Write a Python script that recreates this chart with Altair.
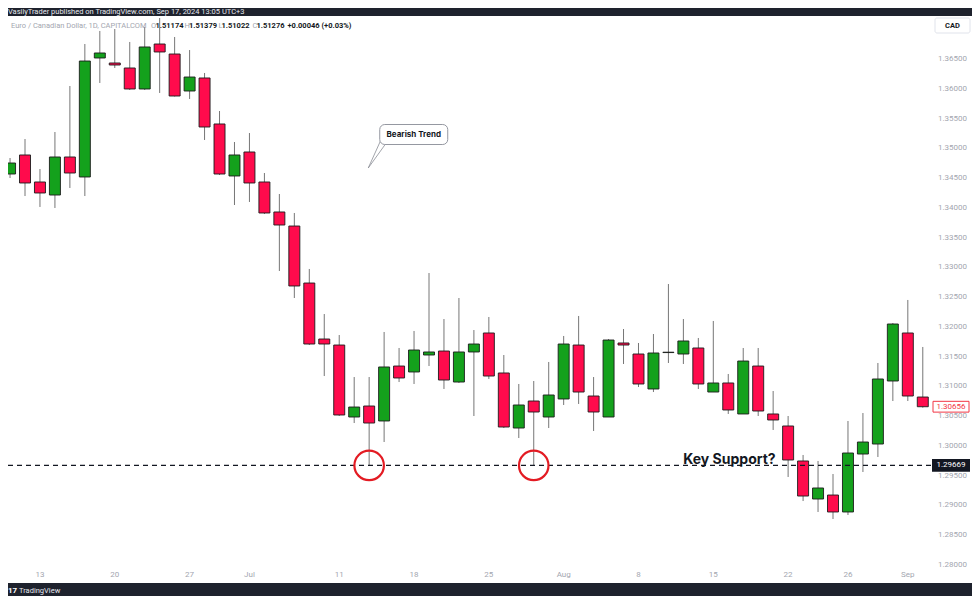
import altair as alt
import pandas as pd

# ---------------- data ----------------
open_ = [1.34567, 1.34887, 1.34433, 1.34214, 1.34853, 1.34517, 1.36517, 1.36433, 1.36349, 1.35996,
         1.36752, 1.36584, 1.35962, 1.36181, 1.35408, 1.34534, 1.34937, 1.34433, 1.33929, 1.33693,
         1.32735, 1.31794, 1.31693, 1.30483, 1.30668, 1.30416, 1.31340, 1.31240, 1.31525, 1.31592,
         1.31071, 1.31576, 1.31895, 1.31223, 1.30298, 1.30752, 1.30483, 1.30786, 1.31693, 1.30836,
         1.30483, 1.31727, 1.31542, 1.30954, 1.31566, 1.31542, 1.31643, 1.30903, 1.31055, 1.30534,
         1.31340, 1.30534, 1.30332, 1.29744, 1.29105, 1.29172, 1.28887, 1.29861, 1.30029, 1.31088,
         1.31895, 1.30819]
high_ = [1.34836, 1.35155, 1.34651, 1.35273, 1.36046, 1.36752, 1.36971, 1.37004, 1.36786, 1.37038,
         1.37189, 1.36870, 1.36651, 1.36265, 1.35626, 1.35105, 1.35256, 1.34584, 1.34231, 1.33912,
         1.32971, 1.32214, 1.31861, 1.31155, 1.31155, 1.31912, 1.31643, 1.31929, 1.32903, 1.32130,
         1.32483, 1.31945, 1.32164, 1.31525, 1.31038, 1.31088, 1.31408, 1.31845, 1.32181, 1.31155,
         1.31794, 1.31962, 1.31727, 1.31878, 1.32718, 1.32130, 1.31811, 1.32097, 1.31206, 1.31643,
         1.31643, 1.30920, 1.30500, 1.29845, 1.29744, 1.29525, 1.30416, 1.30550, 1.31391, 1.32063,
         1.32450, 1.31660]
low_ = [1.34500, 1.34197, 1.34013, 1.33996, 1.34332, 1.34197, 1.36097, 1.36349, 1.35979, 1.35979,
        1.35929, 1.35870, 1.35828, 1.35139, 1.34550, 1.34046, 1.34097, 1.33895, 1.32937, 1.32483,
        1.31693, 1.31172, 1.30500, 1.30382, 1.29669, 1.30063, 1.31071, 1.31038, 1.31340, 1.30954,
        1.31055, 1.30500, 1.31122, 1.30298, 1.30130, 1.29669, 1.30298, 1.30685, 1.30702, 1.30248,
        1.30483, 1.31374, 1.30987, 1.30903, 1.31391, 1.31374, 1.30954, 1.30903, 1.30534, 1.30534,
        1.30500, 1.30265, 1.29475, 1.29071, 1.28887, 1.28769, 1.28836, 1.29559, 1.29811, 1.30752,
        1.30752, 1.30640]
close_ = [1.34752, 1.34416, 1.34248, 1.34853, 1.34584, 1.36466, 1.36601, 1.36399, 1.35996, 1.36702,
          1.36618, 1.35878, 1.36197, 1.35357, 1.34567, 1.34887, 1.34416, 1.33912, 1.33710, 1.32685,
          1.31710, 1.31710, 1.30517, 1.30651, 1.30382, 1.31324, 1.31139, 1.31609, 1.31576, 1.31105,
          1.31576, 1.31710, 1.31172, 1.30315, 1.30685, 1.30567, 1.30853, 1.31710, 1.30903, 1.30567,
          1.31777, 1.31693, 1.31038, 1.31559, 1.31572, 1.31761, 1.31038, 1.31055, 1.30601, 1.31424,
          1.30584, 1.30433, 1.29761, 1.29155, 1.29290, 1.28887, 1.29878, 1.30063, 1.31122, 1.32046,
          1.30836, 1.30656]

x_tick_idx = [2, 7, 12, 16, 22, 27, 32, 37, 42, 47, 52, 56, 60]
x_tick_lbl = ["13", "20", "27", "Jul", "11", "18", "25", "Aug", "8", "15", "22", "26", "Sep"]
y_tick_vals = [1.280, 1.285, 1.290, 1.295, 1.300, 1.305, 1.310, 1.315, 1.320,
               1.325, 1.330, 1.335, 1.340, 1.345, 1.350, 1.355, 1.360, 1.365]

support_price = 1.29669
last_close = 1.30656
circle_idx = [24, 35]

# ---------------- styling ----------------
GREEN = "#14a11c"
RED = "#ff0b4c"
DARK = "#1e222d"
INK = "#131722"
GREY = "#a3a6af"
FONT = "Roboto"

W, H = 964, 567
xs = alt.Scale(domain=[0.198, 63.955], nice=False, zero=False)
ys = alt.Scale(domain=[1.276933, 1.372227], nice=False, zero=False)

candles = pd.DataFrame({
    "i": list(range(len(open_))),
    "o": open_, "h": high_, "l": low_, "c": close_,
    "dir": ["up" if c >= o else "down" for o, c in zip(open_, close_)],
})
one = pd.DataFrame({"a": [0]})

X = lambda f: alt.X(f, scale=xs, axis=None)
Y = lambda f: alt.Y(f, scale=ys, axis=None)

wicks = alt.Chart(candles).mark_rule(color="#767676", strokeWidth=1, clip=True).encode(
    x=X("i:Q"), y=Y("l:Q"), y2="h:Q")

bodies = alt.Chart(candles).mark_bar(size=11, stroke="#1c1c1c", strokeWidth=0.9, clip=True).encode(
    x=X("i:Q"), y=Y("o:Q"), y2="c:Q",
    color=alt.Color("dir:N", scale=alt.Scale(domain=["up", "down"], range=[GREEN, RED]), legend=None))

sup_df = pd.DataFrame({"p": [support_price]})
support = alt.Chart(sup_df).mark_rule(strokeDash=[5, 4], strokeWidth=1.3, color=INK).encode(
    y=Y("p:Q"), x=alt.value(0), x2=alt.value(924))

circ_df = pd.DataFrame({"i": circle_idx, "p": [support_price] * len(circle_idx)})
circles = alt.Chart(circ_df).mark_point(shape="circle", size=870, filled=False, color="#e31b23",
                                        strokeWidth=2.2, opacity=1).encode(x=X("i:Q"), y=Y("p:Q"))

key_df = pd.DataFrame({"i": [48.08], "p": [support_price]})
key_text = alt.Chart(key_df).mark_text(text="Key Support?", font="Inter", fontSize=14, fontWeight="bold",
                                       color=INK, baseline="alphabetic", align="center", dy=-1).encode(
    x=X("i:Q"), y=Y("p:Q"))

tail_df = pd.DataFrame({"i": [24.80, 23.94, 25.07], "p": [1.35147, 1.34668, 1.35063], "k": [0, 1, 2]})
tail = alt.Chart(tail_df).mark_line(color="#8a8d96", strokeWidth=0.8).encode(
    x=X("i:Q"), y=Y("p:Q"), order="k:O")

call_df = pd.DataFrame({"i": [26.98], "p": [1.35231]})
call_box = alt.Chart(call_df).mark_rect(width=68, height=20, cornerRadius=5, fill="white",
                                        stroke="#9598a1", strokeWidth=1).encode(x=X("i:Q"), y=Y("p:Q"))
call_txt = alt.Chart(call_df).mark_text(text="Bearish Trend", font="Inter", fontSize=8, fontWeight="bold",
                                        color=INK, align="center", baseline="middle").encode(
    x=X("i:Q"), y=Y("p:Q"))

ylab_df = pd.DataFrame({"p": y_tick_vals})
ylabels = alt.Chart(ylab_df).mark_text(font=FONT, fontSize=8, color=GREY, align="right",
                                       baseline="middle").encode(
    x=alt.value(959), y=Y("p:Q"), text=alt.Text("p:Q", format=".5f"))

xlab_df = pd.DataFrame({"i": x_tick_idx, "lbl": x_tick_lbl})
xlabels = alt.Chart(xlab_df).mark_text(font=FONT, fontSize=8, color=GREY, align="center",
                                       baseline="middle").encode(
    x=X("i:Q"), y=alt.value(559), text="lbl:N")

BOX = "M-1,-0.3H1V0.3H-1Z"
sup_box = alt.Chart(sup_df).mark_point(shape=BOX, size=1296, filled=True, fill=INK, stroke=INK,
                                       opacity=1).encode(x=alt.value(943), y=Y("p:Q"))
sup_lbl = alt.Chart(sup_df).mark_text(font=FONT, fontSize=8, color="white", align="center",
                                      baseline="middle").encode(
    x=alt.value(943), y=Y("p:Q"), text=alt.Text("p:Q", format=".5f"))

last_df = pd.DataFrame({"p": [last_close]})
last_box = alt.Chart(last_df).mark_point(shape=BOX, size=1296, filled=True, fill="white", stroke="#f23645",
                                         strokeWidth=1, opacity=1).encode(x=alt.value(943), y=Y("p:Q"))
last_lbl = alt.Chart(last_df).mark_text(font=FONT, fontSize=8, color="#f23645", align="center",
                                        baseline="middle").encode(
    x=alt.value(943), y=Y("p:Q"), text=alt.Text("p:Q", format=".5f"))

cad_box = alt.Chart(one).mark_rect(fill="white", stroke="#e0e3eb", strokeWidth=1, cornerRadius=2).encode(
    x=alt.value(927), x2=alt.value(962), y=alt.value(2), y2=alt.value(17))


def txt(s, x, y, size=7.5, color=GREY, weight="normal", align="left", font=FONT):
    return alt.Chart(one).mark_text(text=s, fontSize=size, color=color, fontWeight=weight, align=align,
                                    baseline="middle", font=font).encode(x=alt.value(x), y=alt.value(y))


texts = [
    txt("CAD", 944.5, 9.5, size=7.5, color=INK, weight="bold", align="center"),
    txt("Euro / Canadian Dollar, 1D, CAPITALCOM", 3, 9.7, color=GREY),
    txt("O", 143, 9.7, color=GREY),
    txt("1.51174", 147.5, 9.7, color=INK, weight="bold"),
    txt("H", 176.5, 9.7, color=GREY),
    txt("1.51379", 181, 9.7, color=INK, weight="bold"),
    txt("L", 210.5, 9.7, color=GREY),
    txt("1.51022", 213.5, 9.7, color=INK, weight="bold"),
    txt("C", 244.5, 9.7, color=GREY),
    txt("1.51276", 248.5, 9.7, color=INK, weight="bold"),
    txt("+0.00046 (+0.03%)", 279.5, 9.7, color=INK, weight="bold"),
    txt("VasilyTrader published on TradingView.com, Sep 17, 2024 13:05 UTC+3", 0, -4,
        size=7.5, color="#e6e8ee"),
    txt("17", 0, 575, size=8, color="white", weight="bold"),
    txt("TradingView", 11, 575, size=7.5, color="#e6e8ee"),
]

chart = alt.layer(
    wicks, bodies, support, circles, key_text, tail, call_box, call_txt,
    ylabels, xlabels, sup_box, sup_lbl, last_box, last_lbl, cad_box, *texts
).properties(
    width=W, height=H,
    padding={"left": 0, "top": 8, "right": 0, "bottom": 13},
    autosize=alt.AutoSizeParams(type="none"),
    background=DARK,
).configure_view(fill="white", strokeWidth=0)

chart.save("out.html", embed_options={"renderer": "svg", "actions": False})
